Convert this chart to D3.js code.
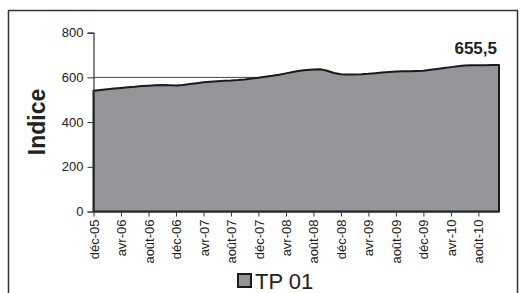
<!doctype html>
<html lang="fr">
<head>
  <meta charset="utf-8">
  <script src="https://cdnjs.cloudflare.com/ajax/libs/d3/7.8.5/d3.min.js"></script>
  <style>
    html, body { margin: 0; padding: 0; background: #fff; }
    svg { display: block; font-family: Arial, "Liberation Sans", sans-serif; }
  </style>
</head>
<body>
<div id="view"></div>
<script>
// monthly index values, déc-05 .. nov-10
var seriesName = "TP 01";
var values = [
  540,
  544, 547, 550, 553, 556, 558, 561, 563, 565, 566, 565, 564,
  566, 570, 574, 578, 581, 583, 585, 586, 588, 591, 595, 598,
  603, 607, 612, 618, 624, 630, 633, 635, 636, 630, 620, 614,
  613, 613, 614, 616, 619, 622, 624, 626, 627, 628, 629, 630,
  634, 638, 642, 646, 650, 653, 654, 654, 654, 655, 655.5
];
var tickLabels = ["déc-05", "avr-06", "août-06", "déc-06", "avr-07", "août-07", "déc-07",
  "avr-08", "août-08", "déc-08", "avr-09", "août-09", "déc-09", "avr-10", "août-10"];
var yTicks = [0, 200, 400, 600, 800];
var lastLabel = "655,5";

var W = 524, H = 293;
var svg = d3.select("#view").append("svg").attr("width", W).attr("height", H);

// outer frame
svg.append("rect").attr("x", 8.5).attr("y", 10.5).attr("width", 509).attr("height", 300)
  .attr("fill", "none").attr("stroke", "#333").attr("stroke-width", 1.5);

var x = d3.scaleLinear().domain([0, values.length - 1]).range([93.5, 499]);
var y = d3.scaleLinear().domain([0, 800]).range([211.5, 32.7]);

// gridlines (only visible above the area)
svg.append("g").selectAll("line").data(yTicks.filter(function(d){ return d > 0 && d < 800; }))
  .enter().append("line")
  .attr("x1", x(0)).attr("x2", x(values.length - 1))
  .attr("y1", function(d){ return y(d); }).attr("y2", function(d){ return y(d); })
  .attr("stroke", "#444").attr("stroke-width", 1);

var area = d3.area()
  .x(function(d, i){ return x(i); })
  .y0(y(0))
  .y1(function(d){ return y(d); });

svg.append("path").datum(values).attr("d", area)
  .attr("fill", "#939598").attr("stroke", "#1a1a1a").attr("stroke-width", 2)
  .attr("stroke-linejoin", "round");

// y axis
var yAxis = d3.axisLeft(y).tickValues(yTicks).tickSize(6).tickPadding(4);
var gy = svg.append("g").attr("transform", "translate(" + x(0) + ",0)").call(yAxis);
gy.select(".domain").attr("stroke", "#333").attr("stroke-width", 1.2);
gy.selectAll(".tick line").attr("stroke", "#333");
gy.selectAll("text").attr("font-size", 13).attr("fill", "#222")
  .attr("font-family", "Arial, 'Liberation Sans', sans-serif");

// x axis: a tick every 4 months
var tickIdx = tickLabels.map(function(d, i){ return i * 4; });
var xAxis = d3.axisBottom(x).tickValues(tickIdx).tickSize(5).tickSizeOuter(0)
  .tickFormat(function(d, i){ return tickLabels[i]; });
var gx = svg.append("g").attr("transform", "translate(0," + y(0) + ")").call(xAxis);
gx.select(".domain").attr("stroke", "#333").attr("stroke-width", 1.2);
gx.selectAll(".tick line").attr("stroke", "#333");
gx.selectAll("text").attr("font-size", 13).attr("fill", "#222")
  .attr("font-family", "Arial, 'Liberation Sans', sans-serif")
  .attr("text-anchor", "end")
  .attr("transform", "rotate(-90)")
  .attr("x", -8).attr("y", 0).attr("dy", "0.35em");

// axis title
svg.append("text").attr("transform", "translate(45,122) rotate(-90)")
  .attr("text-anchor", "middle").attr("font-size", 23).attr("font-weight", "bold")
  .attr("fill", "#222").text("Indice");

// last value label
svg.append("text").attr("x", 497).attr("y", 54).attr("text-anchor", "end")
  .attr("font-size", 17).attr("font-weight", "bold").attr("fill", "#222").text(lastLabel);

// legend
var lg = svg.append("g").attr("transform", "translate(238,274)");
lg.append("rect").attr("width", 13).attr("height", 13)
  .attr("fill", "#939598").attr("stroke", "#1a1a1a").attr("stroke-width", 2);
lg.append("text").attr("x", 17).attr("y", 14.5).attr("font-size", 22)
  .attr("fill", "#222").text(seriesName);
</script>
</body>
</html>
